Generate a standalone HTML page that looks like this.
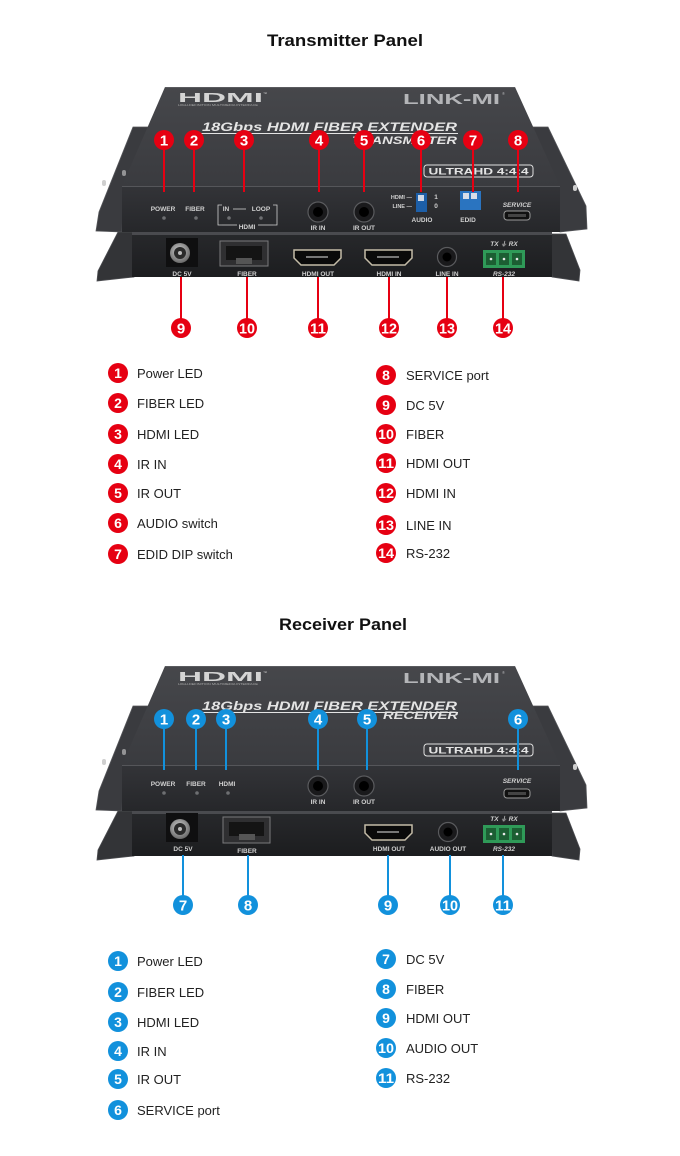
<!DOCTYPE html>
<html><head><meta charset="utf-8"><style>
html,body{margin:0;padding:0;background:#fff;}
svg{display:block;font-family:"Liberation Sans","Noto Sans CJK SC",sans-serif;}
</style></head><body>
<svg width="680" height="1156" viewBox="0 0 680 1156" xmlns="http://www.w3.org/2000/svg">
<defs>
<linearGradient id="lid" x1="0" y1="0" x2="0" y2="1"><stop offset="0" stop-color="#46474b"/><stop offset="1" stop-color="#3a3b3f"/></linearGradient>
<linearGradient id="face" x1="0" y1="0" x2="0" y2="1"><stop offset="0" stop-color="#333438"/><stop offset="1" stop-color="#26272a"/></linearGradient>
<linearGradient id="face2" x1="0" y1="0" x2="0" y2="1"><stop offset="0" stop-color="#27282b"/><stop offset="1" stop-color="#1c1d1f"/></linearGradient>
<radialGradient id="dc" cx="0.45" cy="0.4" r="0.6"><stop offset="0" stop-color="#d0d0d0"/><stop offset="1" stop-color="#6a6a6a"/></radialGradient>
<g id="body">
  <polygon points="133,127 160,127 124,186 122,232 96,231 99,212" fill="#3a3b3f" stroke="#55565a" stroke-width="0.8"/>
  <polygon points="525,127 548,127 586,206 587,229 560,232" fill="#3a3b3f" stroke="#55565a" stroke-width="0.8"/>
  <rect x="102" y="180" width="4" height="6" rx="2" fill="#cfcfcf"/>
  <rect x="122" y="170" width="4" height="6" rx="2" fill="#cfcfcf" opacity="0.6"/>
  <rect x="573" y="185" width="4" height="6" rx="2" fill="#cfcfcf"/>
  <polygon points="118,232 134,232 134,277 97,281 98,271" fill="#333437" stroke="#4d4e52" stroke-width="0.8"/>
  <polygon points="550,234 566,234 580,270 579,281 552,277" fill="#333437" stroke="#4d4e52" stroke-width="0.8"/>
  <polygon points="165,87 515,87 560,186 122,186" fill="url(#lid)"/>
  <line x1="165" y1="87.5" x2="515" y2="87.5" stroke="#5a5b5f" stroke-width="1"/>
  <rect x="122" y="186" width="438" height="46" fill="url(#face)"/>
  <line x1="122" y1="186.5" x2="560" y2="186.5" stroke="#55565a" stroke-width="1"/>
  <rect x="132" y="232" width="420" height="3" fill="#4a4b4f"/>
  <rect x="132" y="235" width="420" height="42" fill="url(#face2)"/>
  <text x="178" y="102" font-size="12.5" font-weight="bold" fill="#d4d4d4" textLength="85" lengthAdjust="spacingAndGlyphs">HDMI</text>
  <text x="263" y="95" font-size="4" fill="#ccc">™</text>
  <text x="178" y="106" font-size="3" fill="#aaa" textLength="80" lengthAdjust="spacingAndGlyphs">HIGH-DEFINITION MULTIMEDIA INTERFACE</text>
  <text x="403" y="104" font-size="15" font-weight="bold" fill="#b4b5b8" textLength="97" lengthAdjust="spacingAndGlyphs">LINK-MI</text>
  <text x="502" y="95" font-size="4" fill="#b4b5b8">®</text>
  <text x="202" y="131" font-size="12" font-weight="bold" font-style="italic" fill="#e4e4e4" textLength="255" lengthAdjust="spacingAndGlyphs">18Gbps HDMI FIBER EXTENDER</text>
  <line x1="200" y1="133.5" x2="458" y2="133.5" stroke="#e4e4e4" stroke-width="1"/>
  <rect x="424" y="165" width="109" height="12" rx="3" fill="none" stroke="#e0e0e0" stroke-width="1"/>
  <text x="478.5" y="174.5" font-size="9.5" font-weight="bold" fill="#e4e4e4" text-anchor="middle" textLength="100" lengthAdjust="spacingAndGlyphs">ULTRAHD 4:4:4</text>
</g>
</defs>

<text x="345" y="46" font-size="17" font-weight="bold" fill="#111" text-anchor="middle" textLength="156" lengthAdjust="spacingAndGlyphs">Transmitter Panel</text>
<use href="#body"/>
<text x="352" y="144" font-size="11" font-weight="bold" font-style="italic" fill="#e4e4e4" textLength="105" lengthAdjust="spacingAndGlyphs">TRANSMITTER</text>

<g font-size="6.5" fill="#d0d0d0" text-anchor="middle" font-weight="bold">
  <text x="163" y="211">POWER</text>
  <text x="195" y="211">FIBER</text>
  <text x="226" y="211">IN</text>
  <text x="261" y="211">LOOP</text>
  <text x="247" y="229">HDMI</text>
  <text x="318" y="230">IR IN</text>
  <text x="364" y="230">IR OUT</text>
  <text x="422" y="222">AUDIO</text>
  <text x="468" y="222">EDID</text>
  <text x="517" y="207" font-style="italic">SERVICE</text>
  <text x="436" y="199">1</text>
  <text x="436" y="208">0</text>
</g>
<g font-size="5.5" fill="#d0d0d0" text-anchor="end" font-weight="bold">
  <text x="412" y="199">HDMI —</text>
  <text x="412" y="208">LINE —</text>
</g>
<g stroke="#d0d0d0" stroke-width="0.8" fill="none">
  <line x1="233" y1="209" x2="246" y2="209"/>
  <polyline points="222,205 218,205 218,225 222,225"/>
  <polyline points="273,205 277,205 277,225 273,225"/>
  <line x1="222" y1="225" x2="237" y2="225"/>
  <line x1="258" y1="225" x2="273" y2="225"/>
</g>
<g fill="#6e6f72">
  <circle cx="164" cy="218" r="1.8"/><circle cx="196" cy="218" r="1.8"/>
  <circle cx="229" cy="218" r="1.8"/><circle cx="261" cy="218" r="1.8"/>
</g>
<g>
  <circle cx="318" cy="212" r="10" fill="#1a1a1c" stroke="#5a5b5e" stroke-width="1.2"/><circle cx="318" cy="212" r="5" fill="#000"/>
  <circle cx="364" cy="212" r="10" fill="#1a1a1c" stroke="#5a5b5e" stroke-width="1.2"/><circle cx="364" cy="212" r="5" fill="#000"/>
</g>
<rect x="416" y="193" width="11" height="19" fill="#1d5fa8"/>
<rect x="418" y="195" width="6" height="6" fill="#cfd8e6"/>
<rect x="460" y="191" width="21" height="19" fill="#2a74c0"/>
<rect x="463" y="193" width="6" height="6" fill="#d8dee8"/>
<rect x="471" y="193" width="6" height="6" fill="#d8dee8"/>
<rect x="504" y="211" width="26" height="9" rx="3" fill="#111" stroke="#9a9a9a" stroke-width="1"/>
<rect x="508" y="214" width="18" height="3" fill="#444"/>
<rect x="166" y="238" width="32" height="29" fill="#0f0f10"/>
<circle cx="180" cy="253" r="10" fill="url(#dc)"/><circle cx="180" cy="253" r="6" fill="#2a2a2a"/><circle cx="180" cy="253" r="2" fill="#bbb"/>
<rect x="220" y="241" width="48" height="25" fill="#2f2f31" stroke="#7a7a7c" stroke-width="1"/>
<rect x="226" y="246" width="36" height="14" fill="#141414"/>
<rect x="236" y="258" width="16" height="6" fill="#555"/>
<g fill="#0a0a0a" stroke="#c4bca8" stroke-width="1.5">
  <polygon points="294,250 341,250 341,258 334,265 301,265 294,258"/>
  <polygon points="365,250 412,250 412,258 405,265 372,265 365,258"/>
</g>
<g fill="#777"><rect x="306" y="256" width="22" height="2"/><rect x="377" y="256" width="22" height="2"/></g>
<circle cx="447" cy="257" r="9.5" fill="#1a1a1c" stroke="#5a5b5e" stroke-width="1.2"/><circle cx="447" cy="257" r="4.5" fill="#000"/>
<rect x="483" y="250" width="42" height="18" fill="#2f9a58"/>
<g fill="#1c5e33"><rect x="486" y="253" width="10" height="12"/><rect x="499" y="253" width="10" height="12"/><rect x="512" y="253" width="10" height="12"/></g>
<g fill="#e8e8e8"><circle cx="491" cy="259" r="1.3"/><circle cx="504" cy="259" r="1.3"/><circle cx="517" cy="259" r="1.3"/></g>
<g font-size="6.5" fill="#d0d0d0" text-anchor="middle" font-weight="bold">
  <text x="182" y="276">DC 5V</text>
  <text x="247" y="276">FIBER</text>
  <text x="318" y="276">HDMI OUT</text>
  <text x="389" y="276">HDMI IN</text>
  <text x="447" y="276">LINE IN</text>
  <text x="504" y="276" font-style="italic">RS-232</text>
  <text x="504" y="246" font-style="italic">TX ⏚ RX</text>
</g>
<g stroke="#e60012" stroke-width="2">
  <line x1="164" y1="140" x2="164" y2="192"/><line x1="194" y1="140" x2="194" y2="192"/>
  <line x1="244" y1="140" x2="244" y2="192"/><line x1="319" y1="140" x2="319" y2="192"/>
  <line x1="364" y1="140" x2="364" y2="192"/><line x1="421" y1="140" x2="421" y2="192"/>
  <line x1="473" y1="140" x2="473" y2="192"/><line x1="518" y1="140" x2="518" y2="192"/>
  <line x1="181" y1="277" x2="181" y2="328"/><line x1="247" y1="277" x2="247" y2="328"/>
  <line x1="318" y1="277" x2="318" y2="328"/><line x1="389" y1="277" x2="389" y2="328"/>
  <line x1="447" y1="277" x2="447" y2="328"/><line x1="503" y1="277" x2="503" y2="328"/>
</g>
<g fill="#e60012">
  <circle cx="164" cy="140" r="10"/><circle cx="194" cy="140" r="10"/><circle cx="244" cy="140" r="10"/><circle cx="319" cy="140" r="10"/>
  <circle cx="364" cy="140" r="10"/><circle cx="421" cy="140" r="10"/><circle cx="473" cy="140" r="10"/><circle cx="518" cy="140" r="10"/>
  <circle cx="181" cy="328" r="10"/><circle cx="247" cy="328" r="10"/><circle cx="318" cy="328" r="10"/>
  <circle cx="389" cy="328" r="10"/><circle cx="447" cy="328" r="10"/><circle cx="503" cy="328" r="10"/>
</g>
<g fill="#fff" font-size="15" font-weight="bold" text-anchor="middle">
  <text x="164" y="145.5">1</text><text x="194" y="145.5">2</text><text x="244" y="145.5">3</text><text x="319" y="145.5">4</text>
  <text x="364" y="145.5">5</text><text x="421" y="145.5">6</text><text x="473" y="145.5">7</text><text x="518" y="145.5">8</text>
  <text x="181" y="333.5">9</text>
  <text x="247" y="333.5" textLength="16" lengthAdjust="spacingAndGlyphs">10</text>
  <text x="318" y="333.5" textLength="16" lengthAdjust="spacingAndGlyphs">11</text>
  <text x="389" y="333.5" textLength="16" lengthAdjust="spacingAndGlyphs">12</text>
  <text x="447" y="333.5" textLength="16" lengthAdjust="spacingAndGlyphs">13</text>
  <text x="503" y="333.5" textLength="16" lengthAdjust="spacingAndGlyphs">14</text>
</g>
<g fill="#e60012">
  <circle cx="118" cy="373" r="10"/><circle cx="118" cy="403" r="10"/><circle cx="118" cy="434" r="10"/><circle cx="118" cy="464" r="10"/>
  <circle cx="118" cy="493" r="10"/><circle cx="118" cy="523" r="10"/><circle cx="118" cy="554" r="10"/>
  <circle cx="386" cy="375" r="10"/><circle cx="386" cy="405" r="10"/><circle cx="386" cy="434" r="10"/><circle cx="386" cy="463" r="10"/>
  <circle cx="386" cy="493" r="10"/><circle cx="386" cy="525" r="10"/><circle cx="386" cy="553" r="10"/>
</g>
<g fill="#fff" font-size="14" font-weight="bold" text-anchor="middle">
  <text x="118" y="378">1</text><text x="118" y="408">2</text><text x="118" y="439">3</text><text x="118" y="469">4</text>
  <text x="118" y="498">5</text><text x="118" y="528">6</text><text x="118" y="559">7</text>
  <text x="386" y="380">8</text><text x="386" y="410">9</text>
  <text x="386" y="439" textLength="16" lengthAdjust="spacingAndGlyphs">10</text>
  <text x="386" y="468" textLength="16" lengthAdjust="spacingAndGlyphs">11</text>
  <text x="386" y="498" textLength="16" lengthAdjust="spacingAndGlyphs">12</text>
  <text x="386" y="530" textLength="16" lengthAdjust="spacingAndGlyphs">13</text>
  <text x="386" y="558" textLength="16" lengthAdjust="spacingAndGlyphs">14</text>
</g>
<g fill="#222" font-size="13">
  <text x="137" y="378">Power LED</text><text x="137" y="408">FIBER LED</text><text x="137" y="439">HDMI LED</text>
  <text x="137" y="469">IR IN</text><text x="137" y="498">IR OUT</text><text x="137" y="528">AUDIO switch</text>
  <text x="137" y="559">EDID DIP  switch</text>
  <text x="406" y="380">SERVICE port</text><text x="406" y="410">DC 5V</text><text x="406" y="439">FIBER</text>
  <text x="406" y="468">HDMI OUT</text><text x="406" y="498">HDMI IN</text><text x="406" y="530">LINE IN</text>
  <text x="406" y="558">RS-232</text>
</g>

<text x="343" y="630" font-size="17" font-weight="bold" fill="#111" text-anchor="middle" textLength="128" lengthAdjust="spacingAndGlyphs">Receiver Panel</text>
<use href="#body" transform="translate(0,579)"/>
<text x="383" y="719" font-size="11" font-weight="bold" font-style="italic" fill="#e4e4e4" textLength="75" lengthAdjust="spacingAndGlyphs">RECEIVER</text>

<g font-size="6.5" fill="#d0d0d0" text-anchor="middle" font-weight="bold">
  <text x="163" y="786">POWER</text>
  <text x="196" y="786">FIBER</text>
  <text x="227" y="786">HDMI</text>
  <text x="318" y="804">IR IN</text>
  <text x="364" y="804">IR OUT</text>
  <text x="517" y="783" font-style="italic">SERVICE</text>
</g>
<g fill="#6e6f72">
  <circle cx="164" cy="793" r="1.8"/><circle cx="197" cy="793" r="1.8"/><circle cx="228" cy="793" r="1.8"/>
</g>
<circle cx="318" cy="786" r="10" fill="#1a1a1c" stroke="#5a5b5e" stroke-width="1.2"/><circle cx="318" cy="786" r="5" fill="#000"/>
<circle cx="364" cy="786" r="10" fill="#1a1a1c" stroke="#5a5b5e" stroke-width="1.2"/><circle cx="364" cy="786" r="5" fill="#000"/>
<rect x="504" y="789" width="26" height="9" rx="3" fill="#111" stroke="#9a9a9a" stroke-width="1"/>
<rect x="508" y="792" width="18" height="3" fill="#444"/>
<rect x="166" y="813" width="32" height="29" fill="#0f0f10"/>
<circle cx="180" cy="829" r="10" fill="url(#dc)"/><circle cx="180" cy="829" r="6" fill="#2a2a2a"/><circle cx="180" cy="829" r="2" fill="#bbb"/>
<rect x="223" y="817" width="47" height="26" fill="#2f2f31" stroke="#7a7a7c" stroke-width="1"/>
<rect x="229" y="822" width="35" height="14" fill="#141414"/>
<rect x="239" y="834" width="16" height="6" fill="#555"/>
<polygon points="365,825 412,825 412,833 405,840 372,840 365,833" fill="#0a0a0a" stroke="#c4bca8" stroke-width="1.5"/>
<rect x="377" y="831" width="22" height="2" fill="#777"/>
<circle cx="448" cy="832" r="9.5" fill="#1a1a1c" stroke="#5a5b5e" stroke-width="1.2"/><circle cx="448" cy="832" r="4.5" fill="#000"/>
<rect x="483" y="825" width="42" height="18" fill="#2f9a58"/>
<g fill="#1c5e33"><rect x="486" y="828" width="10" height="12"/><rect x="499" y="828" width="10" height="12"/><rect x="512" y="828" width="10" height="12"/></g>
<g fill="#e8e8e8"><circle cx="491" cy="834" r="1.3"/><circle cx="504" cy="834" r="1.3"/><circle cx="517" cy="834" r="1.3"/></g>
<g font-size="6.5" fill="#d0d0d0" text-anchor="middle" font-weight="bold">
  <text x="183" y="851">DC 5V</text>
  <text x="247" y="853">FIBER</text>
  <text x="389" y="851">HDMI OUT</text>
  <text x="448" y="851">AUDIO OUT</text>
  <text x="504" y="851" font-style="italic">RS-232</text>
  <text x="504" y="821" font-style="italic">TX ⏚ RX</text>
</g>
<g stroke="#1291dc" stroke-width="2">
  <line x1="164" y1="719" x2="164" y2="770"/><line x1="196" y1="719" x2="196" y2="770"/>
  <line x1="226" y1="719" x2="226" y2="770"/><line x1="318" y1="719" x2="318" y2="770"/>
  <line x1="367" y1="719" x2="367" y2="770"/><line x1="518" y1="719" x2="518" y2="770"/>
  <line x1="183" y1="855" x2="183" y2="905"/><line x1="248" y1="855" x2="248" y2="905"/>
  <line x1="388" y1="855" x2="388" y2="905"/><line x1="450" y1="855" x2="450" y2="905"/>
  <line x1="503" y1="855" x2="503" y2="905"/>
</g>
<g fill="#1291dc">
  <circle cx="164" cy="719" r="10"/><circle cx="196" cy="719" r="10"/><circle cx="226" cy="719" r="10"/>
  <circle cx="318" cy="719" r="10"/><circle cx="367" cy="719" r="10"/><circle cx="518" cy="719" r="10"/>
  <circle cx="183" cy="905" r="10"/><circle cx="248" cy="905" r="10"/><circle cx="388" cy="905" r="10"/>
  <circle cx="450" cy="905" r="10"/><circle cx="503" cy="905" r="10"/>
</g>
<g fill="#fff" font-size="15" font-weight="bold" text-anchor="middle">
  <text x="164" y="724.5">1</text><text x="196" y="724.5">2</text><text x="226" y="724.5">3</text>
  <text x="318" y="724.5">4</text><text x="367" y="724.5">5</text><text x="518" y="724.5">6</text>
  <text x="183" y="910.5">7</text><text x="248" y="910.5">8</text><text x="388" y="910.5">9</text>
  <text x="450" y="910.5" textLength="16" lengthAdjust="spacingAndGlyphs">10</text>
  <text x="503" y="910.5" textLength="16" lengthAdjust="spacingAndGlyphs">11</text>
</g>
<g fill="#1291dc">
  <circle cx="118" cy="961" r="10"/><circle cx="118" cy="992" r="10"/><circle cx="118" cy="1022" r="10"/>
  <circle cx="118" cy="1051" r="10"/><circle cx="118" cy="1079" r="10"/><circle cx="118" cy="1110" r="10"/>
  <circle cx="386" cy="959" r="10"/><circle cx="386" cy="989" r="10"/><circle cx="386" cy="1018" r="10"/>
  <circle cx="386" cy="1048" r="10"/><circle cx="386" cy="1078" r="10"/>
</g>
<g fill="#fff" font-size="14" font-weight="bold" text-anchor="middle">
  <text x="118" y="966">1</text><text x="118" y="997">2</text><text x="118" y="1027">3</text>
  <text x="118" y="1056">4</text><text x="118" y="1084">5</text><text x="118" y="1115">6</text>
  <text x="386" y="964">7</text><text x="386" y="994">8</text><text x="386" y="1023">9</text>
  <text x="386" y="1053" textLength="16" lengthAdjust="spacingAndGlyphs">10</text>
  <text x="386" y="1083" textLength="16" lengthAdjust="spacingAndGlyphs">11</text>
</g>
<g fill="#222" font-size="13">
  <text x="137" y="966">Power LED</text><text x="137" y="997">FIBER LED</text><text x="137" y="1027">HDMI LED</text>
  <text x="137" y="1056">IR IN</text><text x="137" y="1084">IR OUT</text><text x="137" y="1115">SERVICE port</text>
  <text x="406" y="964">DC 5V</text><text x="406" y="994">FIBER</text><text x="406" y="1023">HDMI OUT</text>
  <text x="406" y="1053">AUDIO OUT</text><text x="406" y="1083">RS-232</text>
</g>
</svg>
</body></html>
